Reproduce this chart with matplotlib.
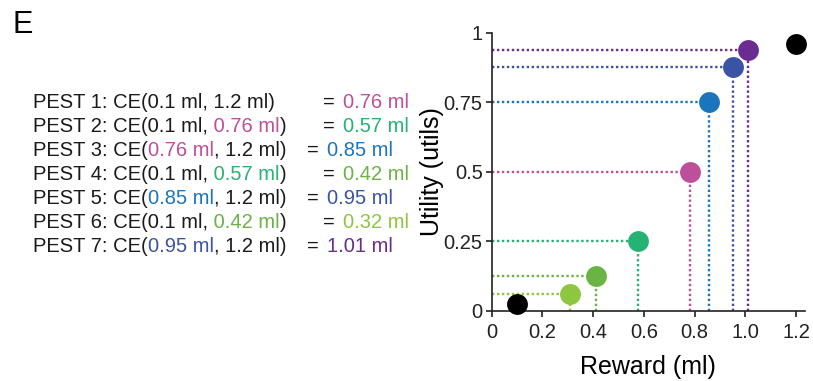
import matplotlib
matplotlib.use("Agg")
import matplotlib.pyplot as plt

plt.rcParams['font.family'] = ['Liberation Sans', 'DejaVu Sans']

# ---- data ----
reward = [0.10, 0.31, 0.41, 0.576, 0.78, 0.857, 0.95, 1.01, 1.20]
utility = [0.025, 0.0625, 0.125, 0.25, 0.5, 0.75, 0.875, 0.9375, 0.96]
point_colors = ['#000000', '#8dc63f', '#6ab345', '#25b373', '#bd4f9b',
                '#1a75bc', '#3a53a4', '#6a2c91', '#000000']
has_guides = [False, True, True, True, True, True, True, True, False]

xticks = [0, 0.2, 0.4, 0.6, 0.8, 1.0, 1.2]
xtick_labels = ['0', '0.2', '0.4', '0.6', '0.8', '1.0', '1.2']
yticks = [0, 0.25, 0.5, 0.75, 1]
ytick_labels = ['0', '0.25', '0.5', '0.75', '1']

K = '#1a1a1a'
PINK, GREEN, BLUE, LGREEN, DBLUE, LLGREEN, PURPLE = (
    '#bd4f9b', '#25b373', '#1a75bc', '#6ab345', '#3a53a4', '#8dc63f', '#6a2c91')
# each line: segments before '=', wide '=' column?, value text, value colour
pest_lines = [
    ([("PEST 1: CE(0.1 ml, 1.2 ml)", K)], True, "0.76 ml", PINK),
    ([("PEST 2: CE(0.1 ml,", K), (" 0.76 ml", PINK), (")", K)], True, "0.57 ml", GREEN),
    ([("PEST 3: CE(", K), ("0.76 ml", PINK), (", 1.2 ml)", K)], False, "0.85 ml", BLUE),
    ([("PEST 4: CE(0.1 ml,", K), (" 0.57 ml", GREEN), (")", K)], True, "0.42 ml", LGREEN),
    ([("PEST 5: CE(", K), ("0.85 ml", BLUE), (", 1.2 ml)", K)], False, "0.95 ml", DBLUE),
    ([("PEST 6: CE(0.1 ml,", K), (" 0.42 ml", LGREEN), (")", K)], True, "0.32 ml", LLGREEN),
    ([("PEST 7: CE(", K), ("0.95 ml", DBLUE), (", 1.2 ml)", K)], False, "1.01 ml", PURPLE),
]

W, H = 813, 381
fig = plt.figure(figsize=(W / 100, H / 100), dpi=100)

x0px, x1px = 491.7, 805.0
y0px, y1px = 311.0, 32.7
ax = fig.add_axes([x0px / W, 1 - y0px / H, (x1px - x0px) / W, (y0px - y1px) / H])
ax.set_xlim(0, 1.235)
ax.set_ylim(0, 1)

for xr, yu, c, g in zip(reward, utility, point_colors, has_guides):
    if g:
        ax.plot([0, xr], [yu, yu], color=c, lw=1.7, ls=(0, (1, 1.1)), zorder=2, clip_on=False)
        ax.plot([xr, xr], [0, yu], color=c, lw=1.7, ls=(0, (1, 1.1)), zorder=2, clip_on=False)
    ax.plot([xr], [yu], 'o', ms=15, color=c, mec='none', zorder=3, clip_on=False)

for s in ['top', 'right']:
    ax.spines[s].set_visible(False)
for s in ['left', 'bottom']:
    ax.spines[s].set_linewidth(1.2)
    ax.spines[s].set_color('#222222')
ax.set_xticks(xticks)
ax.set_xticklabels(xtick_labels)
ax.set_yticks(yticks)
ax.set_yticklabels(ytick_labels)
ax.tick_params(direction='out', length=4.5, width=1.2, labelsize=14.5, colors='#222222')
ax.tick_params(axis='x', pad=4.5)
ax.tick_params(axis='y', pad=2)
ax.set_xlabel('Reward (ml)', fontsize=18, labelpad=9)
ax.set_ylabel('Utility (utils)', fontsize=18, labelpad=0)

fig.text(12 / W, 1 - 33 / H, 'E', fontsize=22, va='baseline', ha='left')

fs = 14.5
for i, (segs, wide, val, vcol) in enumerate(pest_lines):
    ybase = 1 - (101 + i * 24 + 6.5) / H
    prev = None
    for txt, col in segs:
        if prev is None:
            prev = fig.text(33 / W, ybase, txt, fontsize=fs, color=col,
                            va='baseline', ha='left')
        else:
            prev = ax.annotate(txt, xy=(1, 0), xycoords=prev, fontsize=fs, color=col,
                               va='bottom', ha='left', annotation_clip=False)
    eqx = 323 if wide else 307
    fig.text(eqx / W, ybase, "=", fontsize=fs, color=K, va='baseline', ha='left')
    vx = 343 if wide else 327
    fig.text(vx / W, ybase, val, fontsize=fs, color=vcol, va='baseline', ha='left')

fig.savefig('out.png', dpi=100)
